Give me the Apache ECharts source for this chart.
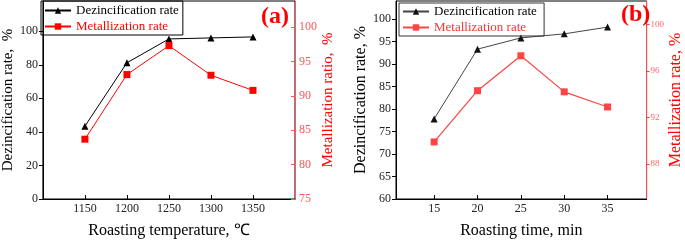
<!DOCTYPE html>
<html>
<head>
<meta charset="utf-8">
<script src="https://cdn.jsdelivr.net/npm/echarts@6/dist/echarts.min.js"></script>
<style>
html, body { margin: 0; padding: 0; background: #fff; }
#main { width: 685px; height: 244px; }
</style>
</head>
<body>
<div id="main"></div>
<script>
// panel (a): roasting temperature
var tempCats = [1150, 1200, 1250, 1300, 1350];
var tempDezinc = [43.4, 81.2, 95.4, 96.0, 96.6];
var tempMetal = [83.7, 93.1, 97.3, 93.0, 90.8];
var tempLeftTicks = [0, 20, 40, 60, 80, 100];
var tempRightTicks = [75, 80, 85, 90, 95, 100];

// panel (b): roasting time
var timeCats = [15, 20, 25, 30, 35];
var timeDezinc = [77.8, 93.3, 95.8, 96.7, 98.2];
var timeMetal = [89.9, 94.3, 97.3, 94.2, 92.9];
var timeLeftTicks = [60, 65, 70, 75, 80, 85, 90, 95, 100];
var timeRightTicks = [88, 92, 96, 100];

var serif = 'Liberation Serif';
var plain = function(v) { return String(v); };
var chart = echarts.init(document.getElementById('main'));

function pairs(xs, ys) {
	var out = [];
	for (var i = 0; i < xs.length; i++) out.push([xs[i], ys[i]]);
	return out;
}

function leftAxis(idx, min, max, ticks, name, nameSize, gap) {
	return {
		type : 'value', gridIndex : idx, position : 'left',
		min : min, max : max,
		name : name, nameLocation : 'middle', nameGap : gap,
		nameTextStyle : { color : '#000', fontFamily : serif, fontSize : nameSize },
		axisLine : { show : true, lineStyle : { color : '#000', width : 1 } },
		axisTick : { show : true, inside : false, length : 4, customValues : ticks, lineStyle : { color : '#000' } },
		axisLabel : { customValues : ticks, formatter : plain, color : '#222', fontFamily : serif, fontSize : 12, margin : 5 },
		splitLine : { show : false }
	};
}

chart.setOption({
	animation : false,
	textStyle : { fontFamily : serif },
	title : [ {
		text : '(a)', left : 256, top : 0,
		textStyle : { color : '#f00', fontFamily : serif, fontSize : 24, fontWeight : 'bold' }
	}, {
		text : '(b)', left : 616, top : -2,
		textStyle : { color : '#f00', fontFamily : serif, fontSize : 24, fontWeight : 'bold' }
	} ],
	legend : [ {
		left : 41, top : 1, orient : 'vertical',
		borderColor : '#000', borderWidth : 1, borderRadius : 0,
		padding : [ 3, 4, 2, 3 ], itemGap : 3, itemWidth : 26, itemHeight : 8,
		textStyle : { fontFamily : serif, fontSize : 13 },
		data : [ { name : 'Dezincification rate', textStyle : { color : '#000', fontFamily : serif, fontSize : 13 } },
			{ name : 'Metallization rate', textStyle : { color : '#f00', fontFamily : serif, fontSize : 13 } } ]
	}, {
		left : 399, top : 3, orient : 'vertical',
		borderColor : '#333', borderWidth : 1, borderRadius : 0,
		padding : [ 2, 4, 2, 3 ], itemGap : 3, itemWidth : 26, itemHeight : 8,
		textStyle : { fontFamily : serif, fontSize : 13 },
		data : [ { name : 'Dezincification rate ', textStyle : { color : '#000', fontFamily : serif, fontSize : 13 } },
			{ name : 'Metallization rate ', textStyle : { color : '#f33', fontFamily : serif, fontSize : 13 } } ]
	} ],
	grid : [ {
		left : 38, right : 390, top : 1, bottom : 37,
		show : true, borderColor : '#000', borderWidth : 1
	}, {
		left : 396, right : 35, top : 1, bottom : 37,
		show : true, borderColor : '#000', borderWidth : 1
	} ],
	xAxis : [ {
		type : 'value', gridIndex : 0, min : 1100, max : 1400,
		name : 'Roasting temperature, \u2103', nameLocation : 'middle', nameGap : 24,
		nameTextStyle : { color : '#000', fontFamily : serif, fontSize : 16 },
		axisLine : { lineStyle : { color : '#000' } },
		axisTick : { inside : true, length : 4, customValues : tempCats },
		axisLabel : { customValues : tempCats, formatter : plain, color : '#222', fontFamily : serif, fontSize : 12, margin : 4 },
		splitLine : { show : false }
	}, {
		type : 'value', gridIndex : 1, min : 10.6, max : 39.5,
		name : 'Roasting time, min', nameLocation : 'middle', nameGap : 24,
		nameTextStyle : { color : '#000', fontFamily : serif, fontSize : 16 },
		axisLine : { lineStyle : { color : '#000' } },
		axisTick : { inside : true, length : 4, customValues : timeCats },
		axisLabel : { customValues : timeCats, formatter : plain, color : '#222', fontFamily : serif, fontSize : 12, margin : 4 },
		splitLine : { show : false }
	} ],
	yAxis : [
		leftAxis(0, 0, 118, tempLeftTicks, 'Dezincification rate,  %', 15, 23),
		{
			type : 'value', gridIndex : 0, position : 'right', min : 75, max : 103.8,
			name : 'Metallization ratio,  %', nameLocation : 'middle', nameGap : 26,
			nameTextStyle : { color : '#f00', fontFamily : serif, fontSize : 15 },
			axisLine : { show : true, lineStyle : { color : '#f55' } },
			axisTick : { show : true, inside : true, length : 4, customValues : tempRightTicks, lineStyle : { color : '#f55' } },
			axisLabel : { customValues : tempRightTicks, formatter : plain, color : '#f55', fontFamily : serif, fontSize : 12, margin : 4 },
			splitLine : { show : false }
		},
		leftAxis(1, 60, 104, timeLeftTicks, 'Dezincification rate, %', 16, 23),
		{
			type : 'value', gridIndex : 1, position : 'right', min : 85, max : 102,
			name : 'Metallization rate, %', nameLocation : 'middle', nameGap : 20,
			nameTextStyle : { color : '#f00', fontFamily : serif, fontSize : 16 },
			axisLine : { show : true, lineStyle : { color : '#f44' } },
			axisTick : { show : true, inside : false, length : 3, customValues : timeRightTicks, lineStyle : { color : '#f44' } },
			axisLabel : { customValues : timeRightTicks, formatter : plain, color : '#f66', fontFamily : serif, fontSize : 9, margin : 4 },
			splitLine : { show : false }
		}
	],
	series : [ {
		name : 'Dezincification rate', type : 'line', xAxisIndex : 0, yAxisIndex : 0,
		data : pairs(tempCats, tempDezinc),
		symbol : 'triangle', symbolSize : 7,
		itemStyle : { color : '#000' }, lineStyle : { color : '#000', width : 1 }
	}, {
		name : 'Metallization rate', type : 'line', xAxisIndex : 0, yAxisIndex : 1,
		data : pairs(tempCats, tempMetal),
		symbol : 'rect', symbolSize : 7,
		itemStyle : { color : '#f00' }, lineStyle : { color : '#f00', width : 1 }
	}, {
		name : 'Dezincification rate ', type : 'line', xAxisIndex : 1, yAxisIndex : 2,
		data : pairs(timeCats, timeDezinc),
		symbol : 'triangle', symbolSize : 7,
		itemStyle : { color : '#111' }, lineStyle : { color : '#444', width : 1 }
	}, {
		name : 'Metallization rate ', type : 'line', xAxisIndex : 1, yAxisIndex : 3,
		data : pairs(timeCats, timeMetal),
		symbol : 'rect', symbolSize : 7,
		itemStyle : { color : '#f44' }, lineStyle : { color : '#f44', width : 1.2 }
	} ]
});
</script>
</body>
</html>
